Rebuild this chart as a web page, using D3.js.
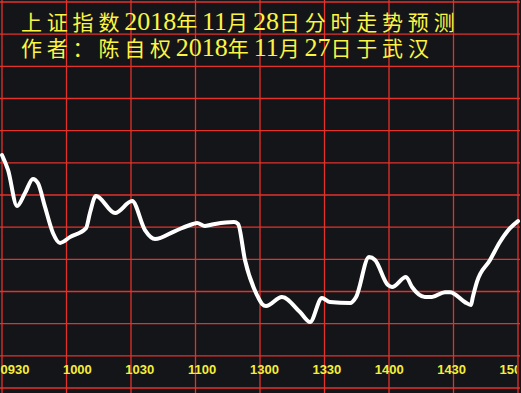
<!DOCTYPE html>
<html>
<head>
<meta charset="utf-8">
<script src="https://cdn.jsdelivr.net/npm/d3@7"></script>
<style>
  html, body { margin: 0; padding: 0; background: #141518; }
  svg { display: block; }
</style>
</head>
<body>
<div id="graf"></div>
<script>
// I. Datos
// minuto de negociación (0 = 09:30, 120 = 13:00, 240 = 15:00)
minutos = [0, 2.8, 7, 10.7, 14.4, 16.7, 20, 23.7, 27, 31.6, 39.1, 40.9, 43.7, 52.6, 60.5,
  66.5, 71.2, 80.5, 88.8, 90.7, 94.4, 99.1, 107.9, 109.8, 113, 118.6, 121, 122.8, 130.2,
  138.6, 143.3, 148.8, 152.6, 161.9, 164.7, 170.7, 173.5, 179.5, 181.4, 187.9, 190.7,
  196.7, 200, 206, 208.4, 215.3, 218.1, 219, 220.9, 227, 231.6, 236.3, 240]
// nivel previsto (unidades de la cuadrícula)
nivel = [7.24, 6.78, 5.66, 6.06, 6.50, 6.37, 5.63, 4.82, 4.51, 4.69, 4.97, 5.44, 5.97, 5.44, 5.81,
  4.91, 4.63, 4.88, 5.10, 5.13, 5.04, 5.10, 5.16, 5.10, 3.98, 2.89, 2.61, 2.55, 2.83,
  2.36, 2.05, 2.80, 2.67, 2.64, 2.83, 4.07, 3.98, 3.20, 3.14, 3.45, 3.14,
  2.83, 2.83, 2.98, 2.98, 2.67, 2.58, 2.83, 3.30, 3.98, 4.54, 4.97, 5.19]
horas = ['0930', '1000', '1030', '1100', '1300', '1330', '1400', '1430', '1500']
lineasY = d3.range(0, 13)
titulo1 = ['上证指数', '2018', '年', '11', '月', '28', '日分时走势预测']
titulo2 = ['作者：陈自权', '2018', '年', '11', '月', '27', '日于武汉']

// II. Configuración
ancho_total = 521
alto_total = 393

svg = d3.select('#graf').append('svg')
  .attr('width', ancho_total)
  .attr('height', alto_total)

svg.append('rect')
  .attr('width', ancho_total)
  .attr('height', alto_total)
  .attr('fill', '#141518')

svg.append('clipPath')
  .attr('id', 'corte')
  .append('rect')
  .attr('width', 517)
  .attr('height', alto_total)

x = d3.scaleLinear().domain([0, 240]).range([2, 518])
y = d3.scaleLinear().domain([0, 12]).range([388, 2])
xEtiq = d3.scalePoint().domain(horas).range([15, 514])

// III. Cuadrícula
g = svg.append('g')
g.selectAll('line.v')
  .data(d3.range(0, 241, 30))
  .join('line')
  .attr('class', 'v')
  .attr('x1', d => x(d)).attr('x2', d => x(d))
  .attr('y1', 0).attr('y2', alto_total)
  .attr('stroke', '#e3322b')
  .attr('stroke-width', 1.3)

g.selectAll('line.h')
  .data(lineasY)
  .join('line')
  .attr('class', 'h')
  .attr('x1', 0).attr('x2', 520)
  .attr('y1', d => y(d)).attr('y2', d => y(d))
  .attr('stroke', '#e3322b')
  .attr('stroke-width', 1.3)

// IV. Línea
datos = minutos.map((m, i) => ({ m: m, v: nivel[i] }))
linea = d3.line()
  .x(d => x(d.m))
  .y(d => y(d.v))
  .curve(d3.curveMonotoneX)

svg.append('path')
  .datum(datos)
  .attr('d', linea)
  .attr('fill', 'none')
  .attr('stroke', '#ffffff')
  .attr('stroke-width', 4)
  .attr('stroke-linejoin', 'round')
  .attr('stroke-linecap', 'round')

// V. Textos
function titulo(partes, yBase) {
  t = svg.append('text')
    .attr('x', 21)
    .attr('y', yBase)
    .attr('fill', '#fbf542')
  partes.forEach(p => {
    esNum = /^[0-9]+$/.test(p)
    t.append('tspan')
      .text(p)
      .style('font-family', esNum ? '"Liberation Serif", serif' : '"Noto Sans CJK SC", sans-serif')
      .style('font-size', esNum ? '26px' : '21px')
      .style('letter-spacing', esNum ? '0px' : '4.8px')
  })
}
titulo(titulo1, 30)
titulo(titulo2, 56)

svg.append('g')
  .attr('clip-path', 'url(#corte)')
  .selectAll('text.hora')
  .data(horas)
  .join('text')
  .attr('class', 'hora')
  .attr('x', d => xEtiq(d))
  .attr('y', 374)
  .attr('text-anchor', 'middle')
  .attr('fill', '#f4ee3a')
  .style('font-family', '"Liberation Sans", Arial, sans-serif')
  .style('font-weight', 'bold')
  .style('font-size', '13px')
  .text(d => d)
</script>
</body>
</html>
